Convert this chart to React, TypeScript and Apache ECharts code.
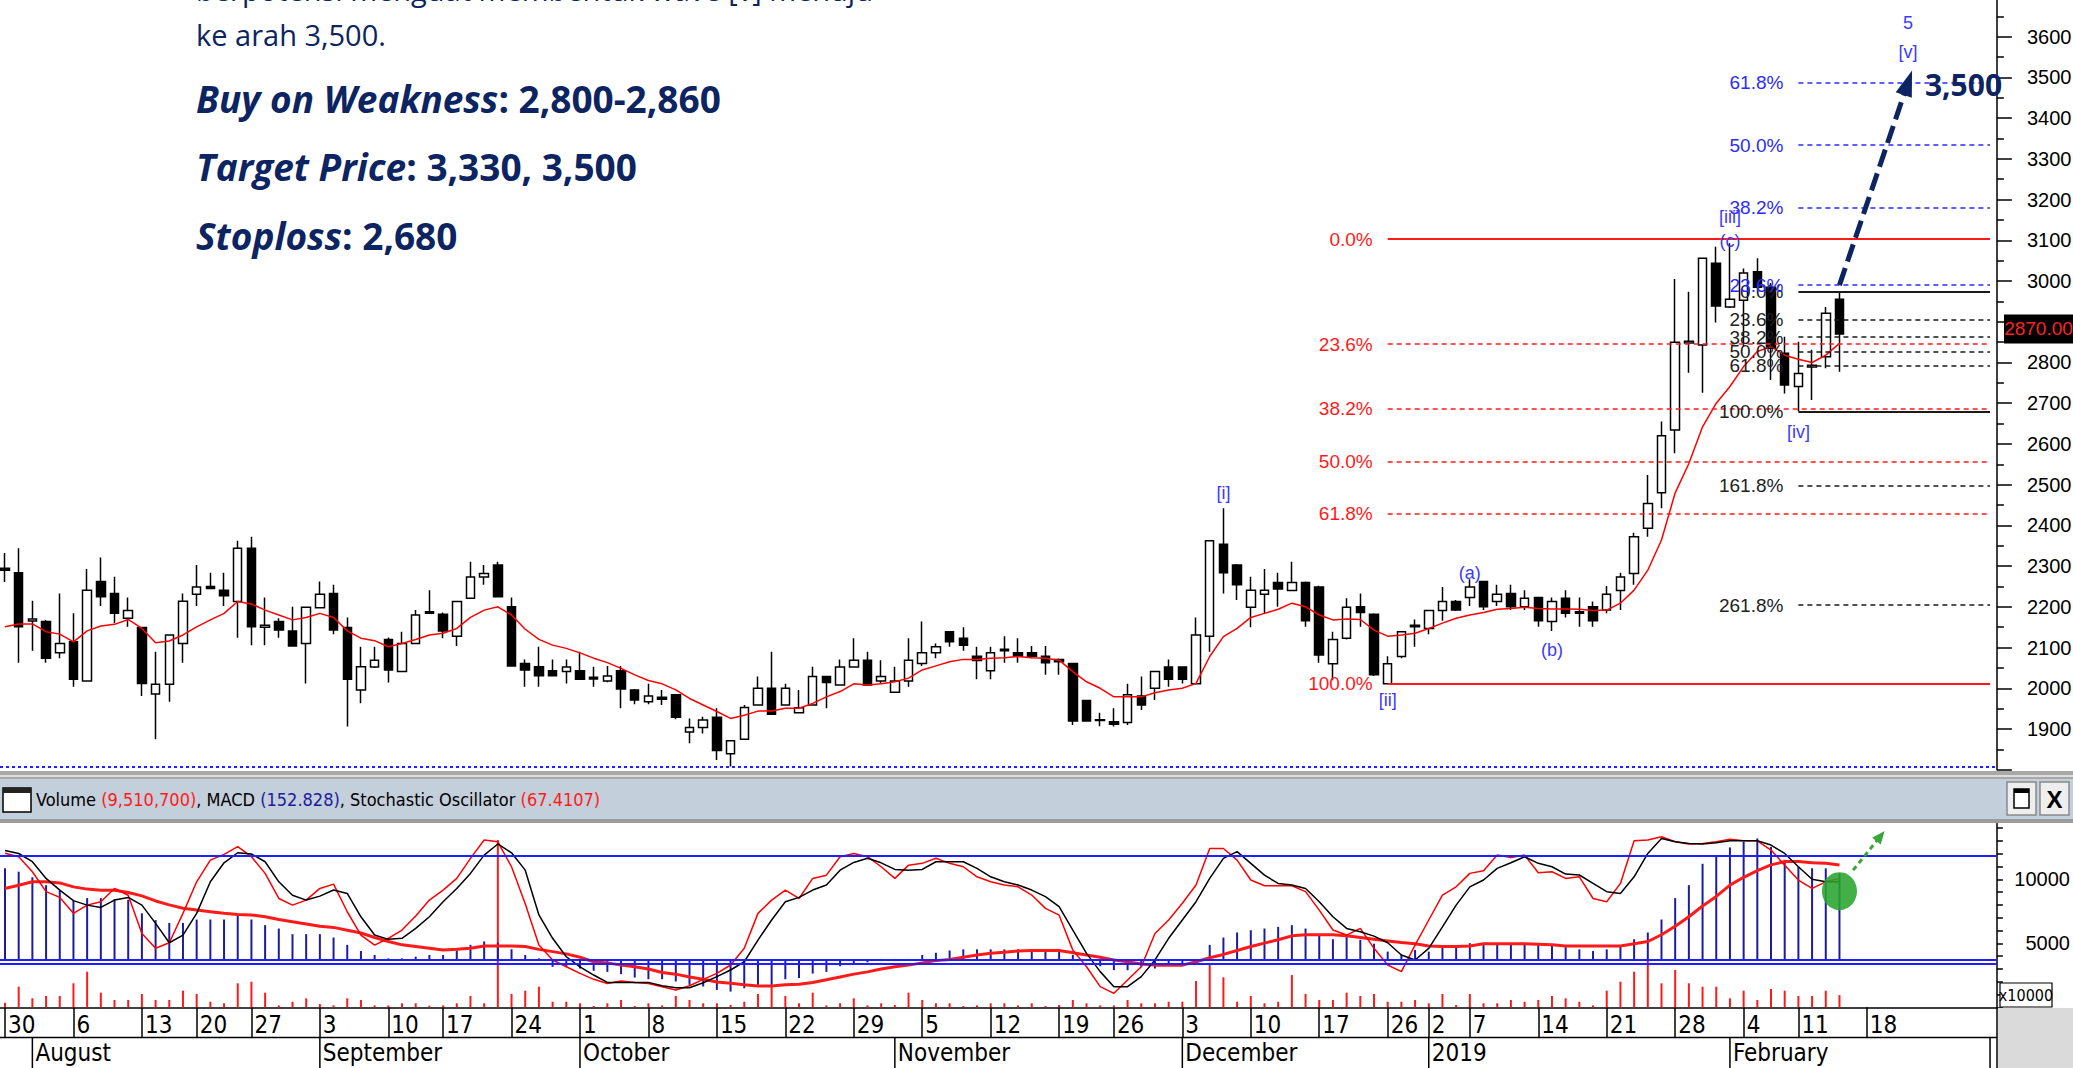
import React, { useEffect, useRef } from 'react';
import * as echarts from 'echarts';

const FONT = '"Liberation Sans", Arial, sans-serif';
const NARROW = '"Liberation Sans Narrow", "Arial Narrow", "DejaVu Sans Condensed", "Liberation Sans", sans-serif';
const TEXTFONT = '"Open Sans", "Noto Sans", sans-serif';
const NAVY = '#0c2461';
const WAVE_BLUE = '#3a3aff';
const FIB_RED = '#ff1a1a';
const FIB_BLUE = '#2b2bff';
const FIB_BLACK = '#1a1a1a';
const LINE_BLUE = '#1f1fff';

// trading days (category axis)
const tradingDays: [number, number, number[]][] = [
  [2018, 7, [30, 31]],
  [2018, 8, [1, 2, 3, 6, 7, 8, 9, 10, 13, 14, 15, 16, 20, 21, 23, 24, 27, 28, 29, 30, 31]],
  [2018, 9, [3, 4, 5, 6, 7, 10, 12, 13, 14, 17, 18, 19, 20, 21, 24, 25, 26, 27, 28]],
  [2018, 10, [1, 2, 3, 4, 5, 8, 9, 10, 11, 12, 15, 16, 17, 18, 19, 22, 23, 24, 25, 26, 29, 30, 31]],
  [2018, 11, [1, 2, 5, 6, 7, 8, 9, 12, 13, 14, 15, 16, 19, 21, 22, 23, 26, 27, 28, 29, 30]],
  [2018, 12, [3, 4, 5, 6, 7, 10, 11, 12, 13, 14, 17, 18, 19, 20, 21, 26, 27, 28]],
  [2019, 1, [2, 3, 4, 7, 8, 9, 10, 11, 14, 15, 16, 17, 18, 21, 22, 23, 24, 25, 28, 29, 30, 31]],
  [2019, 2, [1, 4, 6, 7, 8, 11, 12, 13, 14, 15, 18, 19, 20, 21, 22, 25, 26, 27, 28]],
  [2019, 3, [1]],
];
const monthNames: Record<number, string> = {
  1: '2019', 2: 'February', 3: '', 8: 'August', 9: 'September', 10: 'October', 11: 'November', 12: 'December', 7: '',
};

const open = [2295,2284,2165,2164,2087,2114,2018,2262,2233,2172, 2149,1986,2010,2110,2231,2250,2241,2213,2344,2150, 2164,2141,2110,2198,2233,2149,1996,2052,2120,2041, 2110,2184,2182,2128,2221,2273,2303,2200,2061,2053, 2043,2041,2043,2027,2018,2043,1996,1967,1978,1984, 1893,1904,1929,1839,1875,1959,2000,1959,1940,1959, 2029,2008,2052,2069,2018,1990,2018,2061,2087,2139, 2123,2079,2043,2092,2087,2087,2079,2071,2061,1970, 1921,1918,1916,1981,2000,2052,2052,2011,2128,2354, 2303,2199,2231,2260,2240,2260,2249,2060,2123,2200, 2182,2011,2078,2151,2147,2191,2213,2223,2262,2213, 2233,2200,2223,2164,2221,2184,2200,2192,2240,2282, 2393,2480,2634,2848,2843,3044,2936,2953,3023,2985, 2823,2741,2789,2814,2955];
const close = [2290,2151,2170,2074,2110,2022,2241,2225,2184,2191, 2012,2010,2131,2214,2249,2245,2227,2344,2151,2155, 2143,2104,2199,2231,2143,2022,2053,2069,2045,2110, 2180,2188,2141,2213,2273,2282,2225,2055,2045,2031, 2031,2052,2022,2023,2030,1998,1971,1981,1973,1929, 1904,1922,1847,1871,1953,2000,1936,2000,1952,2029, 2014,2052,2069,2008,2029,2018,2069,2087,2102,2114, 2106,2068,2087,2096,2079,2079,2063,2065,1920,1920, 1923,1912,1984,1959,2041,2022,2022,2131,2362,2284, 2254,2241,2241,2244,2260,2166,2082,2120,2199,2186, 2033,2060,2139,2155,2191,2213,2192,2249,2200,2231, 2200,2221,2166,2213,2184,2188,2166,2231,2273,2372, 2454,2620,2850,2852,3056,2939,2955,3020,2985,2835, 2745,2773,2793,2921,2870];
const low = [2261,2063,2092,2063,2074,2004,2018,2202,2160,2151, 1981,1875,1967,2063,2202,2243,2202,2124,2106,2106, 2124,2104,2012,2198,2133,1906,1963,2050,2014,2041, 2110,2184,2123,2104,2221,2254,2225,2055,2004,2004, 2031,2012,2022,2004,2015,1951,1961,1961,1959,1924, 1865,1889,1824,1808,1875,1959,1936,1959,1940,1959, 1951,2008,2052,2008,2012,1990,2004,2055,2074,2102, 2092,2022,2022,2063,2063,2074,2033,2033,1910,1918, 1907,1906,1910,1947,1971,2004,2012,2011,2090,2233, 2217,2150,2184,2200,2238,2151,2063,2020,2120,2151, 2030,2010,2074,2102,2133,2166,2190,2202,2192,2202, 2192,2192,2151,2141,2174,2151,2151,2184,2192,2254, 2372,2442,2577,2775,2726,2898,2934,2839,2980,2757, 2724,2680,2708,2786,2777];
const high = [2332,2344,2215,2168,2233,2184,2293,2321,2274,2223, 2149,2090,2131,2233,2303,2284,2284,2362,2372,2223, 2172,2200,2199,2262,2254,2174,2102,2102,2125,2139, 2192,2241,2186,2215,2311,2303,2311,2223,2071,2102, 2071,2071,2090,2053,2055,2055,1998,2011,1996,1986, 1926,1930,1951,1873,1959,2029,2090,2011,1996,2053, 2031,2071,2123,2090,2069,2053,2123,2164,2110,2141, 2150,2102,2102,2128,2123,2104,2104,2073,2063,1972, 1940,1951,2011,2029,2043,2071,2053,2174,2364,2442, 2305,2274,2293,2284,2311,2262,2252,2139,2221,2233, 2184,2079,2141,2169,2193,2249,2217,2268,2264,2254, 2254,2241,2225,2223,2241,2223,2213,2251,2284,2382, 2524,2655,3005,2974,3058,3084,3093,3031,3056,2995, 2863,2851,2831,2936,2975];
const movingAvg = [2151,2158,2158,2139,2133,2114,2141,2153,2157,2169, 2147,2112,2116,2131,2151,2168,2184,2213,2207,2192, 2180,2168,2174,2184,2174,2141,2123,2117,2102,2110, 2120,2131,2135,2147,2174,2192,2200,2180,2145,2120, 2106,2098,2087,2074,2063,2049,2033,2019,2011,1996, 1975,1959,1943,1926,1934,1944,1944,1951,1951,1963, 1979,1992,2011,2008,2011,2016,2025,2045,2055,2065, 2071,2071,2074,2075,2078,2075,2074,2069,2041,2016, 2000,1979,1979,1979,1989,1996,2000,2012,2078,2127, 2147,2174,2184,2194,2209,2200,2180,2168,2170,2169, 2143,2128,2131,2135,2147,2160,2172,2180,2186,2194, 2196,2199,2196,2195,2195,2194,2191,2192,2209,2241, 2290,2364,2480,2552,2642,2700,2741,2790,2827,2839, 2818,2808,2800,2818,2847];
// volume in units of 10,000 shares
const volume = [359,1609,703,883,883,1875,2781,1141,570,570, 1039,570,570,1297,1039,438,313,1875,2000,1141, 150,438,703,258,150,703,570,150,150,313, 313,125,150,313,883,313,13070,1039,1297,1609, 438,438,313,102,313,570,102,313,150,883, 570,313,313,180,438,1039,1742,883,313,1141, 150,313,703,150,313,180,1141,570,313,313, 102,150,313,313,150,313,102,180,570,313, 150,150,570,313,313,438,438,2055,3438,2344, 438,883,313,438,2523,1039,570,570,1141,883, 1039,438,438,570,313,1039,180,1039,313,313, 570,438,570,883,703,438,150,1297,2000,2781, 3695,1875,2914,1875,1609,1609,703,1297,570,1430, 1297,883,883,1297,951];
const macd = [162,156,146,132,122,104,109,109,107,106, 82,70,65,65,71,71,71,79,71,61, 55,45,45,45,39,26,15,8,2,2, 5,8,8,16,26,32,30,18,8,2, -13,-13,-16,-20,-22,-26,-32,-35,-35,-39, -45,-48,-54,-57,-51,-45,-45,-35,-33,-25, -22,-12,-7,-5,1,1,1,8,12,16, 18,18,18,18,18,16,16,16,8,1, -12,-19,-19,-13,-16,-9,-7,-4,26,39, 48,52,55,58,61,55,44,36,40,35, 28,14,8,17,14,22,23,29,26,26, 26,26,26,26,22,18,15,18,23,36, 48,71,109,132,170,184,199,209,215,200, 177,165,162,162,152.8];
const signal = [126,132,138,138,136,129,125,123,123,119, 113,104,97,91,88,85,82,80,79,76, 71,67,63,59,57,52,47,39,32,26, 23,20,17,18,20,24,24,24,23,18, 14,10,4,-4,-6,-10,-13,-17,-23,-26, -31,-35,-40,-42,-45,-47,-47,-45,-44,-41, -36,-31,-26,-22,-17,-13,-10,-6,-2,0, 4,8,11,13,15,16,16,16,12,8, 4,-1,-4,-8,-10,-10,-10,-4,3,9, 16,23,29,35,42,44,44,44,42,39, 36,33,30,28,24,23,23,24,28,28, 28,28,27,26,24,24,24,24,24,28, 32,44,59,76,95,112,132,146,158,168, 174,174,172,171,168];
const stochK = [81.4,79.5,71.1,60,56.8,47.9,52.5,54.4,61.8,58, 36.7,28.4,31.5,47.9,65.5,77.6,80.8,85.1,79.5,70.2, 56.2,52.5,55.3,61.8,64.2,48.8,35.8,30.2,34,38.6, 46.4,55.3,60.9,67.4,78.6,88.8,87.8,73.9,53.3,30.2, 21.9,18.1,14.4,11.1,8.8,10.2,9.4,8.8,7,5.1, 7.5,11.1,14.4,19.1,28.4,47.9,55.3,60.9,56.2,67.4, 69.2,79.5,81.3,79.5,73.9,67.4,74.8,75.8,78.6,75.8, 73.9,68.3,65.5,63.7,62.7,58.1,50.7,46.9,27.4,18.1, 7,3.3,10.7,18.1,36.7,44.2,53.5,63.7,84.1,84.1, 77.6,66.5,63.3,63.3,63.3,60,49.7,38.6,35.8,39.5, 28.4,19.1,15.4,30.2,44.2,58.1,62.7,70.2,71.7,80.4, 79.1,80.4,70.6,71.1,67.4,68.3,56.2,54.4,64.6,88.4, 88.8,90.6,87.9,86.6,86.9,87.9,89.3,88.4,88.4,83.2, 74.8,66.5,61.8,65.5,67.4];
const stochD = [83,81.3,76.7,67.4,60.9,55,52.5,51.2,55.3,56.8, 52.5,42.3,31.5,35.8,47.9,65.5,76.1,81.7,81,76.7, 65.5,58,55.3,57.5,60.9,59,46,35.8,33.4,34, 39.5,46,54.4,61.8,70.2,80.4,86.6,81.7,72,47, 34,23.7,18.1,13.5,9.4,9.4,9.4,9.4,7.5,6.4, 6.4,9.2,12.6,16.3,20.9,33,44.2,54.4,56.8,60.9, 63.7,72,76.3,78.6,76.1,72.4,72,72.4,76.7,76.7, 76.7,73,68.3,65.5,63.7,60.9,57.2,51.6,38.6,25.6, 15.4,7,7,12.6,21.9,34,44.2,54.4,67.4,78.6, 82.3,75.8,69.2,64.6,63.7,61.8,54.4,46,39.5,37.6, 35.2,31.5,24.7,21.9,28.4,40.4,52.5,62.7,66.5,73, 76.1,79.5,75.8,73.9,69.8,69.3,64.6,60,59,68.3, 81.3,89.7,87.9,86.9,86.6,87.3,88.4,88.4,88.4,86, 81.3,73.9,66.9,65.5,65.5];

// Fibonacci levels
const redFibStart = 101;
const redFibLevels = [3103, 2845, 2686, 2557, 2428, 2011];
const redFibLabels = ['0.0%', '23.6%', '38.2%', '50.0%', '61.8%', '100.0%'];
const blackFibStart = 131;
const blackFibLevels = [2974, 2905, 2862, 2827, 2792, 2680, 2498, 2204];
const blackFibLabels = ['0.0%', '23.6%', '38.2%', '50.0%', '61.8%', '100.0%', '161.8%', '261.8%'];
const blueFibLevels = [2990, 3180, 3334, 3487];
const blueFibLabels = ['23.6%', '38.2%', '50.0%', '61.8%'];

// Elliott wave labels
const waveLabels = ['[i]', '[ii]', '(a)', '(b)', '[iii]', '(c)', '[iv]', '5', '[v]'];
const waveIdx = [89, 101, 107, 113, 126, 126, 131, 139, 139];
const wavePrice = [2480, 1971, 2283, 2094, 3157, 3098, 2629, 3634, 3562];

const arrowFrom: [number, number] = [134, 2990];
const arrowTo: [number, number] = [139, 3487];
const targetText = '3,500';
const lastPrice = 2870;

// build categories
const dates: string[] = [];
const dayNums: number[] = [];
const weekdays: number[] = [];
const monthNums: number[] = [];
tradingDays.forEach(([y, m, days]) => {
  days.forEach((d) => {
    dates.push(`${y}-${m}-${d}`);
    dayNums.push(d);
    weekdays.push(new Date(y, m - 1, d).getDay());
    monthNums.push(m);
  });
});
const LAST = dates.length - 1;
const isWeekStart = dates.map((_, i) => i === 0 || weekdays[i] <= weekdays[i - 1]);
const isMonthStart = dates.map((_, i) => i > 0 && monthNums[i] !== monthNums[i - 1]);

const STEP = 13.69;
const GL = 5 - STEP / 2;
const GW = STEP * dates.length;

function buildOption(): any {
  const candles = open.map((o, i) => [o, close[i], low[i], high[i]]);

  const fibPair = (start: number, level: number, text: string, color: string, solid: boolean, labelColor: string) => [
    {
      coord: [start, level],
      lineStyle: { color, width: solid ? 2 : 1.6, type: solid ? 'solid' : [5, 4] },
      label: {
        show: true, position: 'start', formatter: text, color: labelColor,
        fontSize: 19, fontFamily: FONT, distance: 15,
      },
    },
    { coord: [LAST, level] },
  ];

  const markLineData: any[] = [];
  redFibLevels.forEach((lv, i) =>
    markLineData.push(fibPair(redFibStart, lv, redFibLabels[i], FIB_RED, i === 0 || i === redFibLevels.length - 1, FIB_RED)));
  blackFibLevels.forEach((lv, i) =>
    markLineData.push(fibPair(blackFibStart, lv, blackFibLabels[i], FIB_BLACK, i === 0 || i === 5, '#222')));
  blueFibLevels.forEach((lv, i) =>
    markLineData.push(fibPair(blackFibStart, lv, blueFibLabels[i], FIB_BLUE, false, FIB_BLUE)));
  markLineData.push([
    { coord: arrowFrom, symbol: 'none', lineStyle: { color: NAVY, width: 5, type: [18, 7] }, label: { show: false } },
    { coord: arrowTo, symbol: 'triangle', symbolSize: [17, 26] },
  ]);

  const markPointData = waveLabels.map((t, i) => ({
    coord: [waveIdx[i], wavePrice[i]],
    symbol: 'circle',
    symbolSize: 1,
    itemStyle: { color: 'rgba(0,0,0,0)' },
    label: { show: true, position: 'inside', formatter: t, color: WAVE_BLUE, fontSize: 18, fontFamily: FONT },
  }));

  return {
    animation: false,
    backgroundColor: '#ffffff',
    grid: [
      { left: GL, top: -4.03, width: GW, height: 773.78, containLabel: false, outerBoundsMode: 'none' },
      { left: GL, top: 815.3, width: GW, height: 192, containLabel: false, outerBoundsMode: 'none' },
    ],
    xAxis: [
      { type: 'category', gridIndex: 0, data: dates, boundaryGap: true, show: false },
      {
        type: 'category', gridIndex: 1, data: dates, boundaryGap: true, position: 'bottom',
        axisLine: { show: true, onZero: false, lineStyle: { color: '#000', width: 1.5 } },
        axisTick: {
          show: true, alignWithLabel: true, length: 30, inside: false,
          interval: (i: number) => isWeekStart[i], lineStyle: { color: '#000', width: 1.5 },
        },
        axisLabel: {
          show: true, interval: (i: number) => isWeekStart[i],
          formatter: (_v: string, i: number) => String(dayNums[i]),
          align: 'left', verticalAlign: 'top', padding: [0, 0, 0, 3], margin: 6,
          color: '#000', fontSize: 24, fontFamily: NARROW, showMaxLabel: false, showMinLabel: true,
        },
        splitLine: { show: false },
      },
    ],
    yAxis: [
      {
        type: 'value', gridIndex: 0, position: 'right', min: 1800, max: 3700, interval: 100,
        axisLine: { show: true, onZero: false, lineStyle: { color: '#000', width: 1.5 } },
        axisTick: { show: true, length: 15, lineStyle: { color: '#000', width: 1.5 } },
        minorTick: { show: true, splitNumber: 2, length: 7, lineStyle: { color: '#000', width: 1.5 } },
        axisLabel: {
          formatter: (v: number) => (v >= 1900 && v <= 3600 ? String(v) : ''),
          margin: 30, color: '#000', fontSize: 20, fontFamily: FONT,
        },
        splitLine: { show: false },
      },
      {
        type: 'value', gridIndex: 1, position: 'right', min: 0, max: 15000, interval: 1000,
        axisLine: { show: true, onZero: false, lineStyle: { color: '#000', width: 1.5 } },
        axisTick: { show: true, length: 6, lineStyle: { color: '#000', width: 1.5 } },
        axisLabel: {
          formatter: (v: number) => (v === 5000 || v === 10000 ? String(v) : ''),
          align: 'right', margin: 73, color: '#000', fontSize: 20, fontFamily: FONT,
        },
        splitLine: { show: false },
      },
      { type: 'value', gridIndex: 1, min: -84.9, max: 256.1, show: false, splitLine: { show: false } },
      { type: 'value', gridIndex: 1, min: -4.5, max: 102.6, show: false, splitLine: { show: false } },
    ],
    series: [
      {
        type: 'candlestick', name: 'Price', xAxisIndex: 0, yAxisIndex: 0, data: candles, barWidth: 9,
        silent: true,
        itemStyle: { color: '#ffffff', color0: '#000000', borderColor: '#000000', borderColor0: '#000000', borderWidth: 1.5 },
        markLine: { silent: true, symbol: 'none', symbolSize: 0, animation: false, data: markLineData },
        markPoint: { silent: true, animation: false, data: markPointData },
      },
      {
        type: 'line', name: 'MA', xAxisIndex: 0, yAxisIndex: 0, data: movingAvg, symbol: 'none',
        silent: true, lineStyle: { color: '#ff0000', width: 1.5 },
      },
      {
        type: 'bar', name: 'Volume', xAxisIndex: 1, yAxisIndex: 1, data: volume, barWidth: 2, barGap: '-100%',
        silent: true, itemStyle: { color: '#ff1a1a' },
      },
      {
        type: 'bar', name: 'MACD', xAxisIndex: 1, yAxisIndex: 2, data: macd, barWidth: 2, barGap: '-100%',
        silent: true, itemStyle: { color: '#1c1c9e' },
        markLine: {
          silent: true, symbol: 'none', label: { show: false },
          data: [{ yAxis: 0, lineStyle: { color: LINE_BLUE, width: 2, type: 'solid' } }],
        },
      },
      {
        type: 'line', name: 'Signal', xAxisIndex: 1, yAxisIndex: 2, data: signal, symbol: 'none',
        silent: true, lineStyle: { color: '#ff1a1a', width: 3 },
      },
      {
        type: 'line', name: '%K', xAxisIndex: 1, yAxisIndex: 3, data: stochK, symbol: 'none',
        silent: true, lineStyle: { color: '#ff0000', width: 1.5 },
        markLine: {
          silent: true, symbol: 'none', label: { show: false },
          data: [
            { yAxis: 80, lineStyle: { color: LINE_BLUE, width: 2, type: 'solid' } },
            { yAxis: 20, lineStyle: { color: LINE_BLUE, width: 2, type: 'solid' } },
            [
              { coord: [135, 72], symbol: 'none', lineStyle: { color: '#3aa63a', width: 3, type: [5, 4] } },
              { coord: [137, 91], symbol: 'triangle', symbolSize: [11, 13] },
            ],
          ],
        },
      },
      {
        type: 'line', name: '%D', xAxisIndex: 1, yAxisIndex: 3, data: stochD, symbol: 'none',
        silent: true, lineStyle: { color: '#000000', width: 1.5 }, z: 3,
        markPoint: {
          silent: true,
          data: [{
            coord: [134, 60.3], symbol: 'circle', symbolSize: [35, 38],
            itemStyle: { color: 'rgba(40,165,45,0.88)' }, label: { show: false },
          }],
        },
      },
    ],
  };
}

export default function App() {
  const ref = useRef<HTMLDivElement>(null);
  useEffect(() => {
    document.body.style.margin = '0';
    document.body.style.overflow = 'hidden';
    const el = ref.current!;
    const chart = echarts.init(el, null, { renderer: 'svg' });
    chart.setOption(buildOption());

    const px = (idx: number, val: number) =>
      chart.convertToPixel({ xAxisIndex: 0, yAxisIndex: 0 }, [idx, val]) as number[];
    const [, tagY] = px(LAST - 11, lastPrice);
    const [ax, ay] = px(arrowTo[0], arrowTo[1]);

    const g: any[] = [];
    // Text overlay (top-left)
    g.push({ type: 'text', z: 100, silent: true, style: { x: 196, y: -11, text: 'berpotensi menguat membentuk wave [v] menuju', fontSize: 29, fontFamily: TEXTFONT, fill: NAVY, verticalAlign: 'middle' } });
    g.push({ type: 'text', z: 100, silent: true, style: { x: 196, y: 34, text: 'ke arah 3,500.', fontSize: 29, fontFamily: TEXTFONT, fill: NAVY, verticalAlign: 'middle' } });
    const rich = {
      a: { fontSize: 37, fontWeight: 'bold', fontStyle: 'italic', fontFamily: TEXTFONT, fill: NAVY },
      b: { fontSize: 37, fontWeight: 'bold', fontFamily: TEXTFONT, fill: NAVY },
    };
    g.push({ type: 'text', z: 100, silent: true, style: { x: 196, y: 98, text: '{a|Buy on Weakness}{b|: 2,800-2,860}', rich, verticalAlign: 'middle' } });
    g.push({ type: 'text', z: 100, silent: true, style: { x: 196, y: 166, text: '{a|Target Price}{b|: 3,330, 3,500}', rich, verticalAlign: 'middle' } });
    g.push({ type: 'text', z: 100, silent: true, style: { x: 196, y: 235, text: '{a|Stoploss}{b|: 2,680}', rich, verticalAlign: 'middle' } });

    // target label
    g.push({ type: 'text', z: 100, silent: true, style: { x: ax + 17, y: ay + 2, text: targetText, fontSize: 30, fontWeight: 'bold', fontFamily: TEXTFONT, fill: NAVY, verticalAlign: 'middle' } });

    // last price tag
    g.push({ type: 'rect', z: 100, silent: true, shape: { x: 2004, y: tagY - 5 - 14.5, width: 69, height: 29 }, style: { fill: '#000' } });
    g.push({ type: 'text', z: 101, silent: true, style: { x: 2038.5, y: tagY - 5, text: lastPrice.toFixed(2), fontSize: 19, fontFamily: FONT, fill: '#ff2020', align: 'center', verticalAlign: 'middle' } });

    // blue dotted line at bottom of price panel
    g.push({ type: 'line', z: 100, silent: true, shape: { x1: 0, y1: 767, x2: 1997, y2: 767 }, style: { stroke: '#2020ff', lineWidth: 2, lineDash: [3, 3] } });

    // month strip: line, separators and names placed with the category axis
    g.push({ type: 'line', z: 100, silent: true, shape: { x1: 0, y1: 1037.5, x2: 1997, y2: 1037.5 }, style: { stroke: '#000', lineWidth: 1.5 } });
    dates.forEach((_, i) => {
      if (!isMonthStart[i]) return;
      const x = chart.convertToPixel({ xAxisIndex: 1 }, i) as unknown as number;
      g.push({ type: 'line', z: 100, silent: true, shape: { x1: x, y1: 1037, x2: x, y2: 1068 }, style: { stroke: '#000', lineWidth: 1.5 } });
      const name = monthNames[monthNums[i]];
      if (name) {
        g.push({ type: 'text', z: 100, silent: true, style: { x: x + 3, y: 1053, text: name, fontSize: 24, fontFamily: NARROW, fill: '#000', verticalAlign: 'middle' } });
      }
    });

    // separators + header
    g.push({ type: 'rect', z: 100, silent: true, shape: { x: 0, y: 771, width: 2073, height: 8 }, style: { fill: '#a8a8a8' } });
    g.push({ type: 'rect', z: 100, silent: true, shape: { x: 0, y: 775, width: 2073, height: 2 }, style: { fill: '#dcdcdc' } });
    g.push({ type: 'rect', z: 100, silent: true, shape: { x: 0, y: 779, width: 2073, height: 40 }, style: { fill: '#c3cfdb' } });
    g.push({ type: 'rect', z: 100, silent: true, shape: { x: 0, y: 819, width: 2073, height: 4 }, style: { fill: '#9c9c9c' } });
    g.push({ type: 'rect', z: 101, silent: true, shape: { x: 3, y: 788, width: 28, height: 24 }, style: { fill: '#fff', stroke: '#000', lineWidth: 1.5 } });
    g.push({ type: 'rect', z: 102, silent: true, shape: { x: 3, y: 788, width: 28, height: 5 }, style: { fill: '#222' } });
    g.push({
      type: 'text', z: 101, silent: true,
      style: {
        x: 36, y: 799, verticalAlign: 'middle',
        text: '{k|Volume }{r|(9,510,700)}{k|, MACD }{b|(152.828)}{k|, Stochastic Oscillator }{r|(67.4107)}',
        rich: {
          k: { fontSize: 18, fontFamily: NARROW, fill: '#000' },
          r: { fontSize: 18, fontFamily: NARROW, fill: '#ff1a1a' },
          b: { fontSize: 18, fontFamily: NARROW, fill: '#1c1c9e' },
        },
      },
    });
    // window buttons
    g.push({ type: 'rect', z: 101, silent: true, shape: { x: 2007, y: 782, width: 29, height: 33 }, style: { fill: '#eeeeee', stroke: '#8a8a8a', lineWidth: 1.5 } });
    g.push({ type: 'rect', z: 102, silent: true, shape: { x: 2014, y: 789, width: 15, height: 19 }, style: { fill: '#fff', stroke: '#000', lineWidth: 1.5 } });
    g.push({ type: 'rect', z: 103, silent: true, shape: { x: 2014, y: 789, width: 15, height: 4 }, style: { fill: '#000' } });
    g.push({ type: 'rect', z: 101, silent: true, shape: { x: 2040, y: 782, width: 29, height: 33 }, style: { fill: '#eeeeee', stroke: '#8a8a8a', lineWidth: 1.5 } });
    g.push({ type: 'text', z: 102, silent: true, style: { x: 2054.5, y: 799, text: 'X', fontSize: 24, fontWeight: 'bold', fontFamily: FONT, fill: '#000', align: 'center', verticalAlign: 'middle' } });

    // bottom-right area and x10000 box
    g.push({ type: 'rect', z: 100, silent: true, shape: { x: 1998, y: 1008, width: 75, height: 60 }, style: { fill: '#dadada' } });
    g.push({ type: 'line', z: 101, silent: true, shape: { x1: 1997, y1: 1007, x2: 1997, y2: 1068 }, style: { stroke: '#000', lineWidth: 1.5 } });
    g.push({ type: 'rect', z: 100, silent: true, shape: { x: 2000, y: 983, width: 52, height: 24 }, style: { fill: '#fff', stroke: '#000', lineWidth: 1.2 } });
    g.push({ type: 'text', z: 101, silent: true, style: { x: 2026, y: 995, text: 'x10000', fontSize: 16, fontFamily: NARROW, fill: '#000', align: 'center', verticalAlign: 'middle' } });

    chart.setOption({ graphic: g });
    return () => chart.dispose();
  }, []);
  return <div ref={ref} style={{ position: 'absolute', left: 0, top: 0, width: 2073, height: 1068 }} />;
}
